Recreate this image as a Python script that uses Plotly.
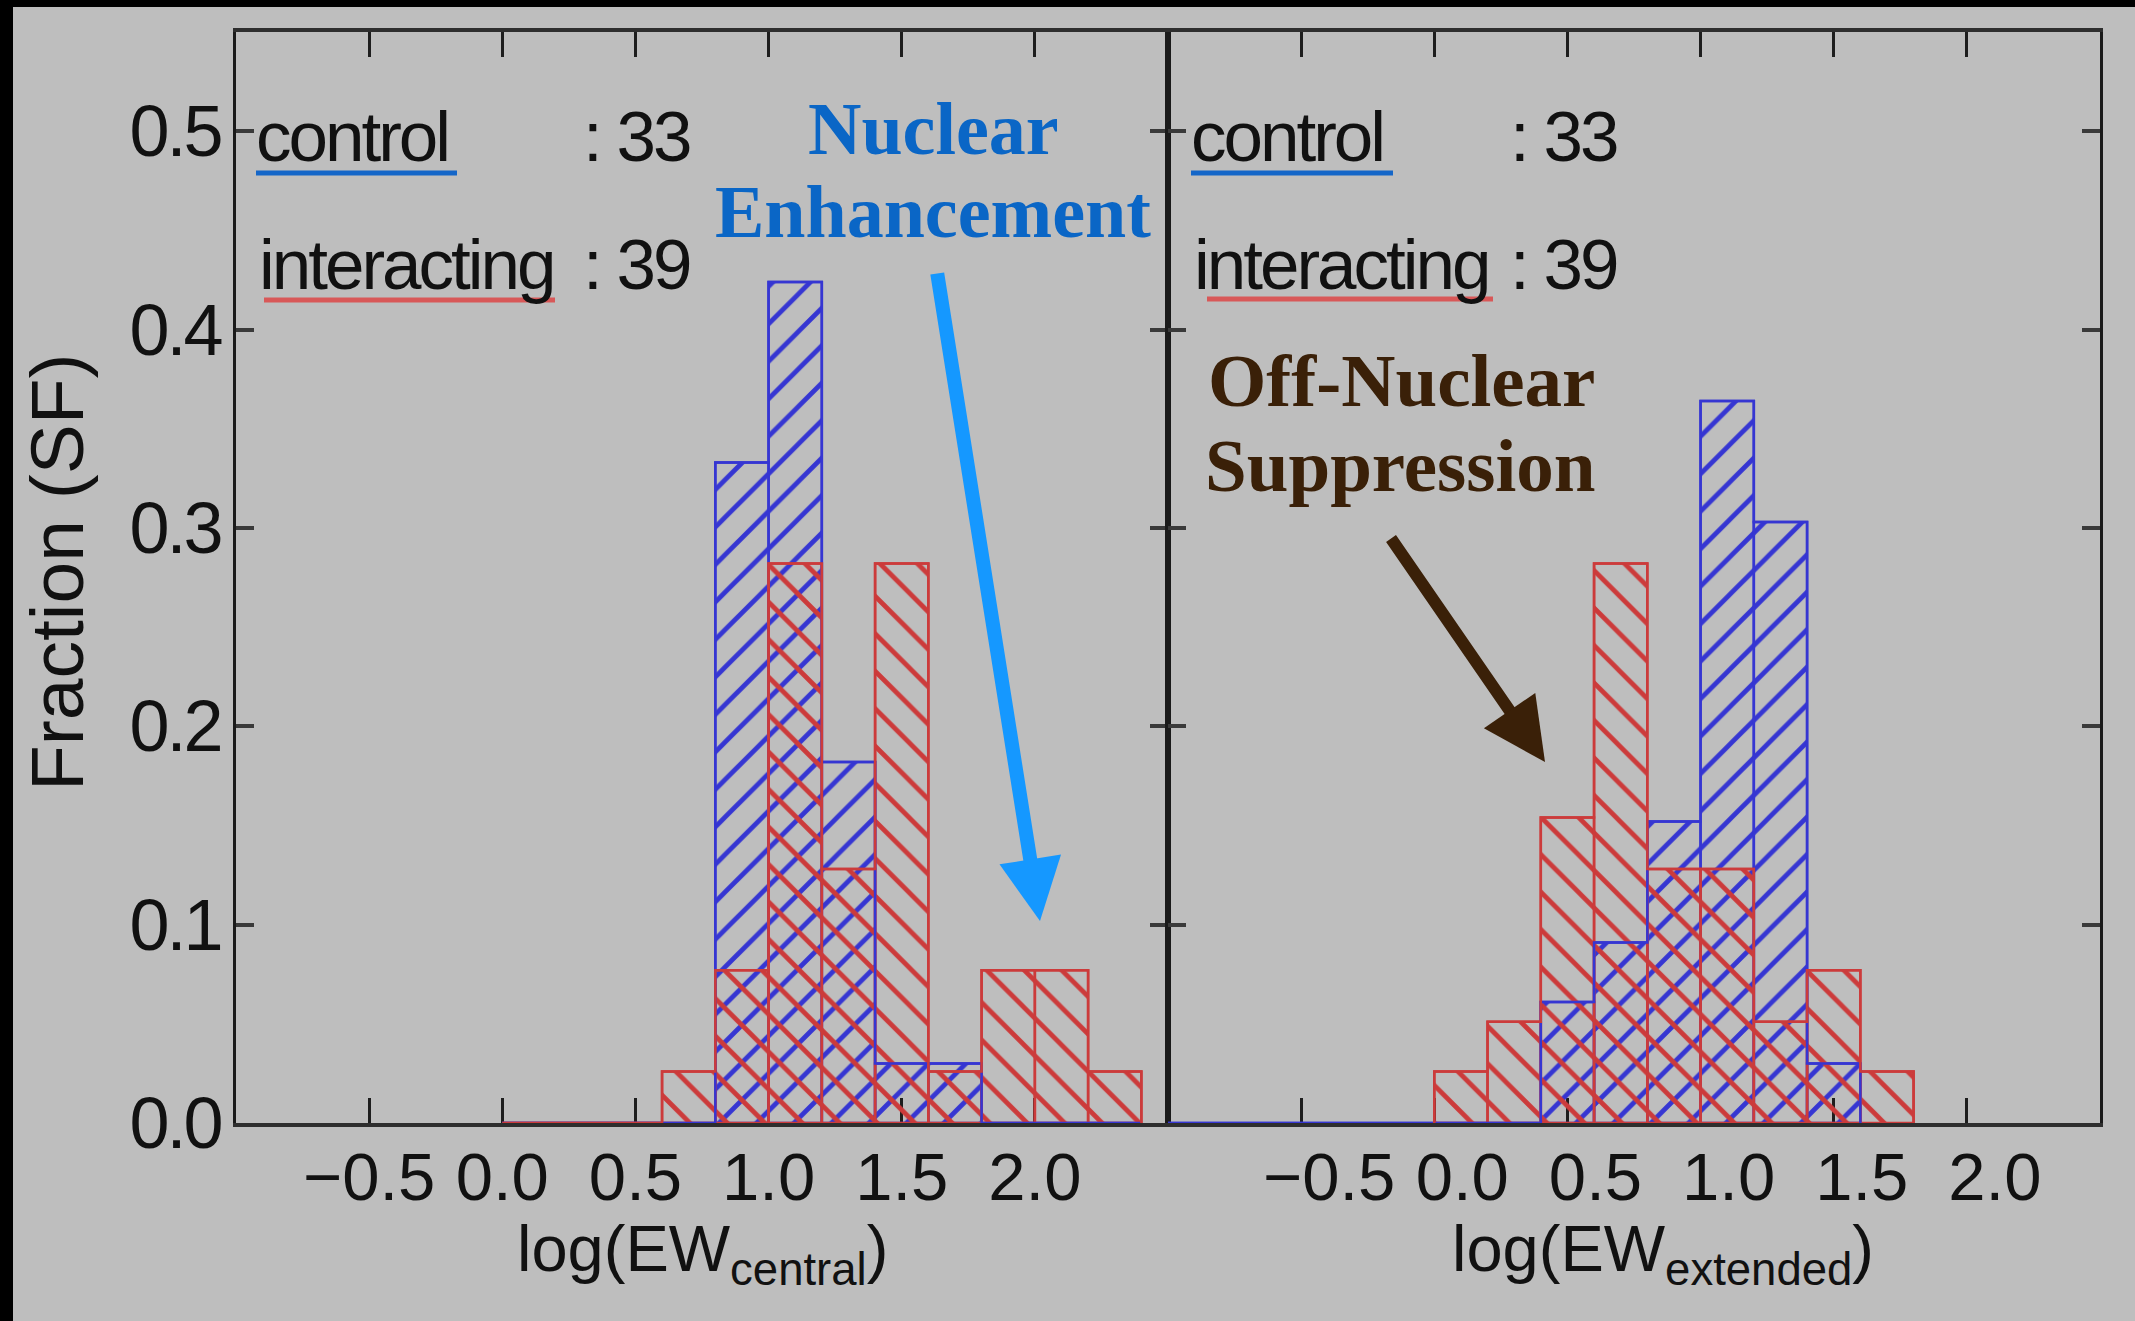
import plotly.graph_objects as go

# ---- data: fraction of star-forming galaxies per log(EW) bin ----
central_edges = [0.0, 0.2, 0.4, 0.6, 0.8, 1.0, 1.2, 1.4, 1.6, 1.8, 2.0, 2.2, 2.4]
central_control = [0.0, 0.0, 0.0, 0.0, 0.333, 0.424, 0.182, 0.030, 0.030, 0.0, 0.0, 0.0]
central_interacting = [0.0, 0.0, 0.0, 0.026, 0.077, 0.282, 0.128, 0.282, 0.026, 0.077, 0.077, 0.026]

extended_edges_control = [-1.0, -0.8, -0.6, -0.4, -0.2, 0.0, 0.2, 0.4, 0.6, 0.8, 1.0, 1.2, 1.4, 1.6]
extended_control = [0.0, 0.0, 0.0, 0.0, 0.0, 0.0, 0.0, 0.061, 0.091, 0.152, 0.364, 0.303, 0.030]
extended_edges_interacting = [0.0, 0.2, 0.4, 0.6, 0.8, 1.0, 1.2, 1.4, 1.6, 1.8]
extended_interacting = [0.026, 0.051, 0.154, 0.282, 0.128, 0.128, 0.051, 0.077, 0.026]

n_control = 33
n_interacting = 39

x_tickvals = [-0.5, 0.0, 0.5, 1.0, 1.5, 2.0]
y_tickvals = [0.0, 0.1, 0.2, 0.3, 0.4, 0.5]
y_ticktext = ["0.0", "0.1", "0.2", "0.3", "0.4", "0.5"]
x_range = [-1.0, 2.5]
y_range = [0.0, 0.55]

# ---- styling ----
BG = "#bebebe"
BLUE = "#3636d2"
RED = "#cc3b3b"
INK = "#111111"
W, H = 2135, 1321
ML, MR, MT, MB = 236, 35, 32, 198
PW, PH = W - ML - MR, H - MT - MB
SANS = "Liberation Sans, Arial, sans-serif"
SERIF = "Liberation Serif, Times New Roman, serif"


def tight(s, ls):
    # tall, tightly set lettering
    return f'<span style="letter-spacing:{ls}px">{s}</span>'


def px_x(X):
    return (X - ML) / PW


def px_y(Y):
    return (H - MB - Y) / PH


def hist_traces(edges, values, color, hatch, xa, ya):
    centers = [(a + b) / 2 for a, b in zip(edges[:-1], edges[1:])]
    widths = [b - a for a, b in zip(edges[:-1], edges[1:])]
    bars = go.Bar(
        x=centers, y=values, width=widths, xaxis=xa, yaxis=ya,
        marker=dict(
            color=color,
            line=dict(color=color, width=2.5),
            pattern=dict(shape=hatch, fgcolor=color, size=26.5,
                         solidity=0.18, fillmode="replace"),
        ),
        hoverinfo="skip",
    )
    # outline of the whole histogram, including empty bins along the baseline
    step = go.Scatter(
        x=[edges[0]] + list(edges), y=[0.0] + list(values) + [0.0],
        mode="lines", line=dict(color=color, width=2.5, shape="hv"),
        xaxis=xa, yaxis=ya, hoverinfo="skip",
    )
    return [bars, step]


fig = go.Figure()
fig.add_traces(hist_traces(central_edges, central_control, BLUE, "/", "x", "y"))
fig.add_traces(hist_traces(central_edges, central_interacting, RED, "\\", "x", "y"))
fig.add_traces(hist_traces(extended_edges_control, extended_control, BLUE, "/", "x2", "y2"))
fig.add_traces(hist_traces(extended_edges_interacting, extended_interacting, RED, "\\", "x2", "y2"))

xaxis_style = dict(
    range=x_range, tickvals=x_tickvals, tickformat=".1f",
    showline=True, linecolor="#2e2e2e", linewidth=4, mirror="ticks",
    ticks="inside", ticklen=25, tickwidth=2.5, tickcolor="#1e1e1e",
    showgrid=False, zeroline=False, layer="below traces",
    tickfont=dict(family=SANS, size=67, color=INK),
    ticklabelstandoff=-7,
)
yaxis_style = dict(
    range=y_range, tickvals=y_tickvals, ticktext=[tight(t, -3) for t in y_ticktext],
    showline=True, linecolor="#1a1a1a", linewidth=3, mirror="ticks",
    ticks="inside", ticklen=18, tickwidth=4, tickcolor="#3a3a3a",
    showgrid=False, zeroline=False,
    tickfont=dict(family=SANS, size=72, color=INK),
    ticklabelstandoff=-2,
)

fig.update_layout(
    width=W, height=H,
    margin=dict(l=ML, r=MR, t=MT, b=MB, autoexpand=False),
    paper_bgcolor=BG, plot_bgcolor=BG,
    barmode="overlay", showlegend=False,
    xaxis=dict(domain=[0.0, 0.5], anchor="y", **xaxis_style),
    xaxis2=dict(domain=[0.5, 1.0], anchor="y2", ticklabelshift=28, **xaxis_style),
    yaxis=dict(domain=[0.0, 1.0], anchor="x", **yaxis_style),
    yaxis2=dict(domain=[0.0, 1.0], anchor="x2", showticklabels=False, **yaxis_style),
)

ann = []

# axis titles
ann.append(dict(text="log(EW<sub>central</sub>)", xref="x domain", yref="paper",
                x=0.5, y=px_y(1253), xanchor="center", yanchor="middle", showarrow=False,
                font=dict(family=SANS, size=65, color=INK)))
ann.append(dict(text="log(EW<sub>extended</sub>)", xref="x2 domain", yref="paper",
                x=0.5, xshift=29, y=px_y(1253), xanchor="center", yanchor="middle",
                showarrow=False, font=dict(family=SANS, size=65, color=INK)))
ann.append(dict(text="Fraction (SF)", xref="paper", yref="paper", textangle=-90,
                x=px_x(57), y=px_y(572), xanchor="center", yanchor="middle", showarrow=False,
                font=dict(family=SANS, size=75, color=INK)))

# sample sizes in each panel, with colour keys drawn as underlines
legend_font = dict(family=SANS, size=71, color=INK)
LS = -3
shapes = []
for left, colon in [(256, 581), (1191, 1508)]:
    ann.append(dict(text=tight("control", LS), xref="paper", yref="paper", x=px_x(left - 2), y=px_y(136),
                    xanchor="left", yanchor="middle", showarrow=False, font=legend_font))
    ann.append(dict(text=tight(f": {n_control}", LS), xref="paper", yref="paper", x=px_x(colon), y=px_y(136),
                    xanchor="left", yanchor="middle", showarrow=False, font=legend_font))
    ann.append(dict(text=tight("interacting", LS), xref="paper", yref="paper", x=px_x(left + 1), y=px_y(264),
                    xanchor="left", yanchor="middle", showarrow=False, font=legend_font))
    ann.append(dict(text=tight(f": {n_interacting}", LS), xref="paper", yref="paper", x=px_x(colon), y=px_y(264),
                    xanchor="left", yanchor="middle", showarrow=False, font=legend_font))

for x0, x1, yy, col in [(256, 457, 173, "#1466c8"), (264, 555, 300, "#d85858"),
                        (1191, 1393, 173, "#1466c8"), (1207, 1493, 299, "#d85858")]:
    shapes.append(dict(type="line", xref="paper", yref="paper",
                       x0=px_x(x0), x1=px_x(x1), y0=px_y(yy), y1=px_y(yy),
                       line=dict(color=col, width=5)))

# call-outs
ann.append(dict(text="Nuclear", xref="paper", yref="paper", x=px_x(933), y=px_y(129),
                xanchor="center", yanchor="middle", showarrow=False,
                font=dict(family=SERIF, size=74, color="#0a66c6", weight="bold")))
ann.append(dict(text="Enhancement", xref="paper", yref="paper", x=px_x(933), y=px_y(212),
                xanchor="center", yanchor="middle", showarrow=False,
                font=dict(family=SERIF, size=74, color="#0a66c6", weight="bold")))
ann.append(dict(text="Off-Nuclear", xref="paper", yref="paper", x=px_x(1401), y=px_y(380),
                xanchor="center", yanchor="middle", showarrow=False,
                font=dict(family=SERIF, size=75, color="#3a2008", weight="bold")))
ann.append(dict(text="Suppression", xref="paper", yref="paper", x=px_x(1400), y=px_y(465),
                xanchor="center", yanchor="middle", showarrow=False,
                font=dict(family=SERIF, size=75, color="#3a2008", weight="bold")))

ann.append(dict(text="", xref="paper", yref="paper", x=px_x(1040), y=px_y(921),
                ax=937 - 1040, ay=272 - 921, showarrow=True, arrowhead=2,
                arrowwidth=14, arrowsize=0.89, arrowcolor="#1598ff", standoff=0))
ann.append(dict(text="", xref="paper", yref="paper", x=px_x(1545), y=px_y(762),
                ax=1390 - 1545, ay=537 - 762, showarrow=True, arrowhead=2,
                arrowwidth=12, arrowsize=1.04, arrowcolor="#3a2008", standoff=0))

# dark frame strips along the left and top edges
shapes.append(dict(type="rect", xref="paper", yref="paper", x0=px_x(0), x1=px_x(13),
                   y0=px_y(H), y1=px_y(0), fillcolor="black", line=dict(width=0)))
shapes.append(dict(type="rect", xref="paper", yref="paper", x0=px_x(0), x1=px_x(W),
                   y0=px_y(7), y1=px_y(0), fillcolor="black", line=dict(width=0)))

fig.update_layout(annotations=ann, shapes=shapes)
fig.write_html("out.html")
